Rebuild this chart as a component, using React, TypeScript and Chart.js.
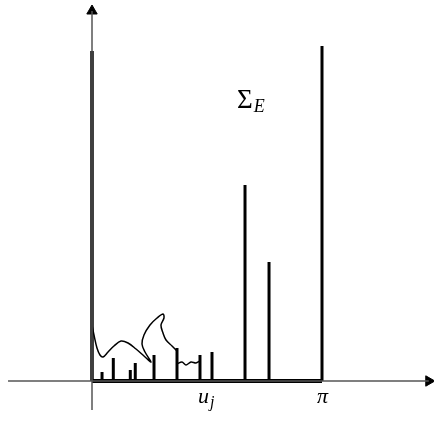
import React, { useEffect, useRef } from "react";
import { Chart, registerables } from "chart.js";

Chart.register(...registerables);

// spikes (atoms) on [0, π]
const spikeX = [0, 0.137, 0.291, 0.523, 0.591, 0.847, 1.161, 1.475, 1.639, 2.09, 2.418, Math.PI];
const spikeH = [3.3, 0.09, 0.23, 0.11, 0.18, 0.26, 0.33, 0.26, 0.29, 1.96, 1.19, 3.35];

// continuous density curve, first piece
const curveAX = [0, 0.027, 0.068, 0.109, 0.15, 0.219, 0.3, 0.396, 0.492, 0.601, 0.71, 0.806, 0.724, 0.683, 0.71, 0.792, 0.888, 0.97, 0.983, 0.942, 0.97, 1.011, 1.093, 1.161];
const curveAY = [0.56, 0.46, 0.33, 0.26, 0.24, 0.29, 0.35, 0.4, 0.38, 0.32, 0.25, 0.19, 0.29, 0.37, 0.46, 0.56, 0.63, 0.67, 0.63, 0.56, 0.48, 0.41, 0.35, 0.3];
// second piece
const curveBX = [1.161, 1.229, 1.284, 1.352, 1.42, 1.475];
const curveBY = [0.17, 0.19, 0.16, 0.19, 0.18, 0.2];

// axis extents
const xAxisRange = [-1.147, 4.6];
const yAxisRange = [-0.29, 3.7];
const supportRange = [0, Math.PI];

// text labels
const labelText = ["u", "π", "Σ"];
const labelSub = ["j", "", "E"];
const labelX = [1.448, 3.073, 1.981];
const labelY = [-0.22, -0.22, 2.73];
const labelSize = [22, 22, 27];
const subSize = [16, 16, 18];

const X_MIN = -92 * Math.PI / 230;
const X_MAX = (434 - 92) * Math.PI / 230;
const Y_MIN = -0.57;
const Y_MAX = 3.81;

const labelPlugin = {
  id: "labels",
  afterDatasetsDraw(chart: any) {
    const ctx = chart.ctx;
    const xs = chart.scales.x;
    const ys = chart.scales.y;
    ctx.save();
    ctx.fillStyle = "#000";
    ctx.textBaseline = "alphabetic";
    labelText.forEach((t, i) => {
      const px = xs.getPixelForValue(labelX[i]);
      const py = ys.getPixelForValue(labelY[i]);
      const italic = t !== "Σ";
      ctx.font = (italic ? "italic " : "") + labelSize[i] + "px 'Liberation Serif', serif";
      ctx.fillText(t, px, py);
      const w = ctx.measureText(t).width;
      if (labelSub[i]) {
        ctx.font = "italic " + subSize[i] + "px 'Liberation Serif', serif";
        ctx.fillText(labelSub[i], px + w + 1, py + 4);
      }
    });
    ctx.restore();
  },
};

export default function App() {
  const ref = useRef<HTMLCanvasElement | null>(null);
  useEffect(() => {
    if (!ref.current) return;
    const seg = (x0: number, y0: number, x1: number, y1: number, w: number, c: string) => ({
      data: [{ x: x0, y: y0 }, { x: x1, y: y1 }],
      showLine: true,
      borderColor: c,
      borderWidth: w,
      pointRadius: 0,
      borderCapStyle: "butt",
    });
    const datasets: any[] = [];
    datasets.push(seg(xAxisRange[0], 0, xAxisRange[1], 0, 1.5, "#555"));
    datasets.push(seg(0, yAxisRange[0], 0, yAxisRange[1], 1.5, "#555"));
    datasets.push(seg(supportRange[0], 0, supportRange[1], 0, 4, "#000"));
    spikeX.forEach((x, i) => datasets.push(seg(x, 0, x, spikeH[i], i === 0 ? 3.5 : 3, "#000")));
    datasets.push({
      data: curveAX.map((x, i) => ({ x, y: curveAY[i] })),
      showLine: true,
      borderColor: "#000",
      borderWidth: 1.5,
      pointRadius: 0,
      tension: 0.35,
    });
    datasets.push({
      data: curveBX.map((x, i) => ({ x, y: curveBY[i] })),
      showLine: true,
      borderColor: "#000",
      borderWidth: 1.5,
      pointRadius: 0,
      tension: 0.3,
    });
    // arrow heads
    datasets.push({
      data: [{ x: 0, y: 3.7 }],
      pointStyle: "triangle",
      pointRadius: 6,
      pointBackgroundColor: "#000",
      pointBorderColor: "#000",
      pointBorderWidth: 1,
      showLine: false,
    });
    datasets.push({
      data: [{ x: 4.6, y: 0 }],
      pointStyle: "triangle",
      rotation: 90,
      pointRadius: 6,
      pointBackgroundColor: "#000",
      pointBorderColor: "#000",
      pointBorderWidth: 1,
      showLine: false,
    });
    const chart = new Chart(ref.current, {
      type: "scatter",
      data: { datasets },
      options: {
        animation: false,
        responsive: false,
        layout: { padding: 0, autoPadding: false },
        plugins: { legend: { display: false }, tooltip: { enabled: false } },
        scales: {
          x: { type: "linear", min: X_MIN, max: X_MAX, display: false },
          y: { type: "linear", min: Y_MIN, max: Y_MAX, display: false },
        },
      },
      plugins: [labelPlugin],
    } as any);
    return () => chart.destroy();
  }, []);
  return (
    <div style={{ position: "fixed", left: 0, top: 0, width: 434, height: 438, background: "#fff" }}>
      <canvas ref={ref} width={434} height={438} />
    </div>
  );
}
